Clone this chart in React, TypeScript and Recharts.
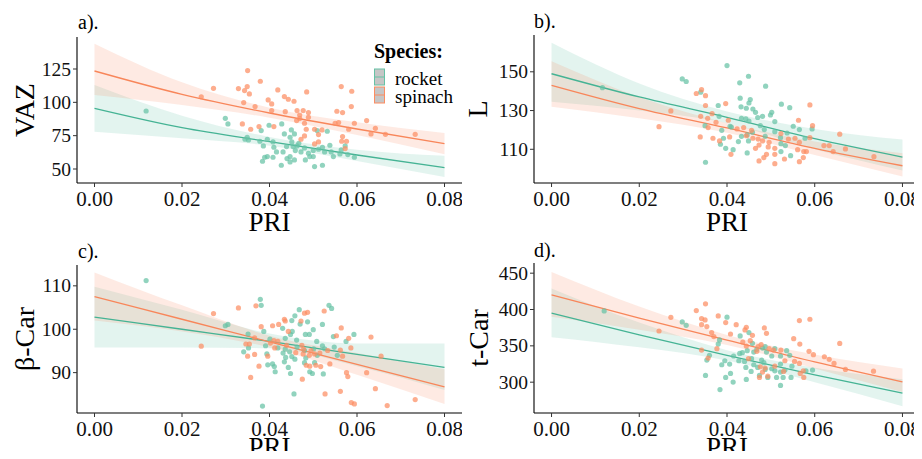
import { ComposedChart, XAxis, YAxis, Scatter, Area, Line } from 'recharts'

const TEAL = '#66C2A5'
const ORANGE = '#FC8D62'
const TEAL_LINE = '#45B394'
const ORANGE_LINE = '#F8865A'
const FONT = '"Liberation Serif", "Times New Roman", serif'

const speciesNames = ['rocket', 'spinach']
const panelTags = ['a).', 'b).', 'c).', 'd).']
const traitNames = ['VAZ', 'L', 'β-Car', 't-Car']

const priTicks = [0, 0.02, 0.04, 0.06, 0.08]
const fitPri = [0, 0.02, 0.04, 0.06, 0.08]

// a) VAZ
const vazTicks = [50, 75, 100, 125]
const vazRocketFit = [95.5, 81, 70.5, 60.5, 51]
const vazRocketLo = [78, 73, 67.5, 56, 44]
const vazRocketHi = [113, 90, 74, 64.5, 60]
const vazSpinachFit = [123.5, 106, 92, 80, 69]
const vazSpinachLo = [105.5, 98, 88.5, 75.5, 61]
const vazSpinachHi = [144, 115, 96, 85, 77]
const vazRocket = [
  [0.0118, 93.5], [0.0299, 88], [0.0305, 83.8], [0.0349, 73.8], [0.0352, 71.8], [0.0344, 72.3],
  [0.0381, 78.8], [0.0378, 70.8], [0.0399, 82.8], [0.0395, 72.3], [0.0408, 70.3], [0.0428, 83.8],
  [0.0434, 76.3], [0.045, 79.3], [0.0447, 73.8], [0.0451, 70.3], [0.0457, 76.3], [0.0439, 66.8],
  [0.0454, 66.8], [0.0463, 67.3], [0.048, 65.8], [0.0459, 63.8], [0.0447, 59.3], [0.0431, 62.8],
  [0.044, 57.8], [0.0416, 62.8], [0.0408, 58.8], [0.0395, 59.3], [0.0389, 58.8], [0.0384, 55.8],
  [0.0427, 52.8], [0.0447, 55.3], [0.0482, 56.8], [0.0492, 59.3], [0.0503, 51.8], [0.0521, 52.8],
  [0.05, 63.8], [0.0512, 64.8], [0.0521, 66.3], [0.0526, 62.8], [0.0538, 67.8], [0.0541, 62.8],
  [0.0546, 59.3], [0.0561, 61.3], [0.0573, 67.3], [0.0579, 60.8], [0.0594, 58.8], [0.0564, 64.3],
  [0.041, 66.3], [0.0386, 67.3], [0.0509, 78.8], [0.0532, 78.3], [0.0472, 62.8], [0.0489, 61.8],
  [0.05, 59.3], [0.0467, 69.3], [0.0457, 56.8],
]
const vazSpinach = [
  [0.0244, 104.2], [0.0272, 110.5], [0.035, 123.8], [0.0329, 110.3], [0.0349, 111.8], [0.0343, 108.8],
  [0.0354, 106.3], [0.0379, 115.8], [0.0419, 109.3], [0.0341, 99.8], [0.0367, 96.8], [0.0397, 101.8],
  [0.0405, 98.8], [0.0405, 93.8], [0.0434, 104.3], [0.0443, 102.3], [0.0456, 100.8], [0.0485, 107.8],
  [0.0436, 93], [0.0463, 93.8], [0.0469, 90.5], [0.0477, 93.8], [0.0489, 92.3], [0.0489, 88.8],
  [0.0469, 87.8], [0.048, 84.3], [0.0462, 86.3], [0.0484, 79.8], [0.0503, 79.8], [0.052, 79.3],
  [0.0512, 75.8], [0.048, 74.8], [0.0472, 72.3], [0.0512, 70.3], [0.0503, 68.8], [0.0564, 111.8],
  [0.0588, 108.3], [0.0587, 96.8], [0.0567, 92.3], [0.0554, 93.3], [0.0558, 84.8], [0.0581, 79.8],
  [0.0594, 84.3], [0.0622, 86.3], [0.0632, 76.3], [0.0567, 74.3], [0.0565, 70.8], [0.0576, 70.8],
  [0.0573, 65.3], [0.0338, 83.8], [0.0357, 79.8], [0.0376, 81.8], [0.041, 81.8], [0.055, 84.3],
  [0.0642, 80.5], [0.0665, 76], [0.0733, 76],
]

// b) L
const lTicks = [110, 130, 150]
const lRocketFit = [149, 137, 126.5, 115.5, 106]
const lRocketLo = [134.5, 130, 123.5, 110, 99]
const lRocketHi = [165, 144, 129.5, 120.5, 115]
const lSpinachFit = [143, 131, 121, 110.5, 101.5]
const lSpinachLo = [132, 126, 118.5, 107, 96]
const lSpinachHi = [155.5, 137, 123.5, 114, 108]
const lRocket = [
  [0.0116, 141.8], [0.04, 153.2], [0.0298, 146.3], [0.0307, 145], [0.0449, 147.7], [0.0429, 144.3],
  [0.0488, 142.6], [0.034, 139.5], [0.043, 136.4], [0.0453, 135.7], [0.045, 133.9], [0.038, 132.6],
  [0.0432, 131.9], [0.0444, 131.2], [0.0459, 130.8], [0.0465, 129.1], [0.0524, 133.3], [0.0543, 131.5],
  [0.0502, 129.1], [0.0499, 127.7], [0.0481, 127], [0.047, 126.4], [0.0382, 127], [0.0433, 126],
  [0.0443, 125.7], [0.045, 124.6], [0.0509, 124.3], [0.0551, 121.9], [0.0565, 120.2], [0.0594, 120.5],
  [0.0537, 118.4], [0.0509, 119.1], [0.0485, 120.2], [0.0458, 118.8], [0.0446, 117.4], [0.0433, 116.7],
  [0.0407, 121.9], [0.041, 121.5], [0.035, 122.2], [0.0388, 119.8], [0.0392, 115.7], [0.0449, 114.3],
  [0.0522, 116], [0.0523, 112.9], [0.0533, 111.9], [0.0385, 112.6], [0.0397, 110.5], [0.0414, 109.8],
  [0.0446, 108.1], [0.0523, 108.8], [0.0545, 106.7], [0.0351, 103.3], [0.0426, 114], [0.0487, 116.7],
  [0.0578, 115.7], [0.0476, 122.2],
]
const lSpinach = [
  [0.0245, 121.7], [0.0272, 129.8], [0.0342, 140.8], [0.033, 138.8], [0.0351, 137.7], [0.0351, 132.6],
  [0.0397, 133.6], [0.0589, 132.9], [0.034, 127], [0.0356, 126], [0.0366, 128.4], [0.0375, 123.9],
  [0.0357, 121.2], [0.0339, 116.4], [0.0368, 115.7], [0.0403, 125], [0.0423, 120.5], [0.0406, 116.4],
  [0.0438, 121.2], [0.0444, 117], [0.0459, 115.7], [0.0471, 115.3], [0.0481, 114.3], [0.0496, 113.6],
  [0.0473, 112.2], [0.0494, 111.2], [0.0509, 110.5], [0.0465, 110.5], [0.049, 107.4], [0.0509, 107.4],
  [0.0473, 104], [0.0484, 105.7], [0.0509, 102.6], [0.0531, 105], [0.0563, 125], [0.0555, 115.7],
  [0.0565, 113.6], [0.0561, 109.8], [0.0575, 108.8], [0.0581, 108.8], [0.0565, 103.6], [0.0574, 105.7],
  [0.0595, 122.2], [0.0589, 116], [0.0621, 111.9], [0.0633, 111.9], [0.0642, 108.8], [0.0383, 114.3],
  [0.0409, 107.4], [0.0456, 119.8], [0.0523, 118.1], [0.054, 115.3], [0.0657, 117.8], [0.067, 110.2],
  [0.0735, 106.2],
]

// c) β-Car
const bTicks = [90, 100, 110]
const bRocketFit = [102.8, 100, 97.2, 94.2, 91.2]
const bRocketLo = [95.8, 95.8, 95.6, 91.5, 86]
const bRocketHi = [109.8, 104.5, 99, 96.7, 96.7]
const bSpinachFit = [107.5, 102.3, 97.1, 91.9, 86.7]
const bSpinachLo = [102, 99.5, 95.8, 89.5, 82.8]
const bSpinachHi = [113.1, 105.5, 98.5, 94.5, 90.8]
const bRocket = [
  [0.0118, 111.2], [0.0379, 106.9], [0.0381, 105.5], [0.0536, 105.5], [0.0542, 104.8], [0.0468, 104.5],
  [0.0451, 102], [0.0458, 103.1], [0.047, 101.2], [0.0487, 101.7], [0.0521, 101.1], [0.043, 100.2],
  [0.0452, 99.5], [0.0448, 98.8], [0.0482, 98.8], [0.0491, 98.8], [0.05, 99.9], [0.0387, 99.5],
  [0.0299, 100.8], [0.0305, 101.1], [0.0351, 98.9], [0.0401, 97.7], [0.0436, 97.9], [0.0462, 97.5],
  [0.0508, 97.2], [0.0546, 98.3], [0.0593, 98.8], [0.0575, 97.2], [0.0352, 95.7], [0.0341, 94.8],
  [0.0391, 96.2], [0.0419, 95.7], [0.0436, 95.4], [0.0431, 94.5], [0.0446, 94.8], [0.0463, 95.9],
  [0.048, 95.1], [0.0501, 95.5], [0.0521, 96.2], [0.0526, 95.5], [0.0548, 95.9], [0.0555, 94],
  [0.0394, 94.3], [0.0437, 93.5], [0.0451, 93.7], [0.0458, 93.1], [0.0483, 93.4], [0.0509, 94],
  [0.0503, 92.3], [0.0434, 92.5], [0.0443, 91.2], [0.048, 92.3], [0.0396, 91.8], [0.0407, 92],
  [0.0411, 91.4], [0.0492, 90.2], [0.0498, 89.8], [0.0523, 89.7], [0.0448, 89.8], [0.0413, 90.2],
  [0.0456, 85.1], [0.0384, 82.3],
]
const bSpinach = [
  [0.0244, 96.1], [0.0272, 103.6], [0.0329, 104.9], [0.0369, 105.4], [0.0434, 102.3], [0.0436, 101.9],
  [0.0443, 99.5], [0.048, 103.7], [0.0487, 103.9], [0.0472, 101.9], [0.0525, 104.2], [0.0564, 100.3],
  [0.0553, 98.5], [0.0581, 97.9], [0.0632, 98.2], [0.0381, 100.6], [0.0407, 100.8], [0.0421, 101.1],
  [0.0366, 98], [0.0402, 96.8], [0.041, 97.4], [0.0419, 97.2], [0.0354, 96.6], [0.0346, 96.6],
  [0.0412, 95.7], [0.0439, 96.3], [0.0474, 96.3], [0.0478, 95.4], [0.0495, 95.1], [0.046, 94.6],
  [0.0477, 94.3], [0.0491, 94], [0.0503, 94.3], [0.0515, 94.5], [0.0533, 95.1], [0.0562, 95.2],
  [0.0567, 93.8], [0.0586, 95.7], [0.035, 93.8], [0.0396, 93.8], [0.0366, 94.2], [0.0376, 91.5],
  [0.0484, 91.7], [0.0492, 91.5], [0.0506, 91.7], [0.0517, 91.4], [0.0538, 92], [0.0576, 90],
  [0.0579, 89.1], [0.0622, 90], [0.0475, 88.5], [0.0357, 88.9], [0.0527, 85.1], [0.0562, 85.7],
  [0.0587, 83.1], [0.0594, 82.8], [0.0642, 86.3], [0.0669, 82.4], [0.0733, 83.8], [0.0655, 93.8],
]

// d) t-Car
const tTicks = [300, 350, 400, 450]
const tRocketFit = [395, 365, 337, 310, 285]
const tRocketLo = [362, 348, 330, 300, 267]
const tRocketHi = [429, 382, 344, 320, 304]
const tSpinachFit = [420, 388, 358, 328, 300.5]
const tSpinachLo = [390, 372, 351, 319, 286.5]
const tSpinachHi = [451.5, 404, 365, 338, 319]
const tRocket = [
  [0.012, 398], [0.0298, 382.9], [0.0307, 378.3], [0.04, 389.4], [0.043, 363.6], [0.045, 368.2],
  [0.0383, 358.1], [0.038, 352.5], [0.0458, 353.5], [0.0461, 341.5], [0.0468, 345.2], [0.0481, 347],
  [0.0487, 348.8], [0.0509, 346.1], [0.049, 341.5], [0.0429, 339.6], [0.0435, 340.6], [0.0446, 343.3],
  [0.0415, 336], [0.0395, 329.5], [0.0406, 324.9], [0.0427, 329.5], [0.044, 328.6], [0.0456, 332.3],
  [0.0479, 330.4], [0.0484, 326.8], [0.0502, 336], [0.0522, 336], [0.0536, 343.3], [0.0543, 336.9],
  [0.0548, 322.1], [0.0522, 324.9], [0.0502, 318.5], [0.0509, 315.7], [0.0522, 313.9], [0.0532, 316.6],
  [0.0546, 306.5], [0.0461, 324], [0.0443, 320.3], [0.0455, 314.8], [0.047, 320.3], [0.0487, 317.5],
  [0.0474, 309.3], [0.0493, 306.5], [0.0513, 306.5], [0.0528, 306.5], [0.0595, 316.6], [0.058, 315.7],
  [0.0388, 324], [0.0408, 312], [0.0397, 306.5], [0.0351, 309.3], [0.0444, 303.8], [0.0414, 300.1],
  [0.0384, 289.9], [0.0522, 295.5], [0.036, 336.9], [0.0354, 330.4],
]
const tSpinach = [
  [0.0245, 370.4], [0.0272, 389.3], [0.0351, 407.8], [0.033, 398.6], [0.0342, 387.5], [0.035, 385.7],
  [0.0342, 379.2], [0.0354, 376.5], [0.038, 391.2], [0.0397, 382], [0.0421, 379.2], [0.0441, 371.9],
  [0.0444, 375.5], [0.0458, 364.5], [0.0485, 374.6], [0.049, 367.3], [0.0565, 384.8], [0.0589, 386.6],
  [0.0552, 359.9], [0.0566, 352.5], [0.0365, 368.2], [0.037, 362.7], [0.0408, 366.3], [0.0436, 355.3],
  [0.0453, 357.1], [0.0471, 348.8], [0.0478, 351.6], [0.0496, 346.1], [0.0506, 344.2], [0.0523, 344.2],
  [0.0468, 342.4], [0.0444, 349.8], [0.0377, 346.1], [0.0342, 344.2], [0.0357, 333.2], [0.0587, 342.4],
  [0.0597, 337.8], [0.0622, 335], [0.0633, 331.4], [0.0644, 325.8], [0.0554, 328.6], [0.0565, 325.8],
  [0.0574, 315.7], [0.0532, 329.5], [0.0509, 322.1], [0.0476, 321.2], [0.0487, 319.4], [0.0481, 313.9],
  [0.0493, 308.3], [0.0474, 306.5], [0.0529, 314.8], [0.0567, 312], [0.0575, 306.5], [0.0449, 332.3],
  [0.0657, 353.4], [0.067, 317.5], [0.0734, 315.2],
]

type Pair = number[]

function buildFit(rFit: number[], rLo: number[], rHi: number[], sFit: number[], sLo: number[], sHi: number[]) {
  return fitPri.map((x, i) => ({
    x,
    rocket: rFit[i],
    rocketBand: [rLo[i], rHi[i]],
    spinach: sFit[i],
    spinachBand: [sLo[i], sHi[i]],
  }))
}

const toPoints = (pairs: Pair[]) => pairs.map(([x, y]) => ({ x, y }))

const dot = (color: string) => (props: any) => (
  <circle cx={props.cx} cy={props.cy} r={2.6} fill={color} fillOpacity={0.72} />
)

// tick renderer so the serif font is applied for sure
const serifTick = (size: number, axis: 'x' | 'y') => (props: any) => {
  const { x, y, payload } = props
  const label = axis === 'x' ? Number(payload.value).toFixed(2) : String(payload.value)
  return (
    <text
      x={x}
      y={y}
      dy={axis === 'x' ? size * 0.78 : size * 0.34}
      textAnchor={axis === 'x' ? 'middle' : 'end'}
      fontSize={size}
      fill="#111"
      style={{ fontFamily: FONT }}
    >
      {label}
    </text>
  )
}

type PanelProps = {
  left: number
  top: number
  width: number
  height: number
  marginTop: number
  marginRight: number
  axisWidth: number
  axisHeight: number
  title: string
  titleX: number
  priDy: number
  yDomain: number[]
  yTicks: number[]
  rocket: Pair[]
  spinach: Pair[]
  fit: ReturnType<typeof buildFit>
}

function Panel(p: PanelProps) {
  return (
    <div style={{ position: 'absolute', left: p.left, top: p.top, fontFamily: FONT }}>
      <ComposedChart
        width={p.width}
        height={p.height}
        data={p.fit}
        margin={{ top: p.marginTop, right: p.marginRight, bottom: 0, left: 0 }}
      >
        <XAxis
          type="number"
          dataKey="x"
          domain={[-0.004, 0.084]}
          ticks={priTicks}
          allowDataOverflow
          height={p.axisHeight}
          tick={serifTick(21, 'x')}
          tickSize={4}
          tickMargin={3}
          axisLine={{ stroke: '#000', strokeWidth: 1.1 }}
          tickLine={{ stroke: '#333' }}
          label={(lp: any) => {
            const vb = lp.viewBox
            return (
              <text
                x={vb.x + vb.width / 2}
                y={vb.y + p.priDy}
                textAnchor="middle"
                fontSize={27}
                fill="#000"
                style={{ fontFamily: FONT }}
              >
                PRI
              </text>
            )
          }}
        />
        <YAxis
          type="number"
          dataKey="y"
          domain={p.yDomain}
          ticks={p.yTicks}
          allowDataOverflow
          width={p.axisWidth}
          tick={serifTick(19.5, 'y')}
          tickSize={4}
          tickMargin={2}
          axisLine={{ stroke: '#000', strokeWidth: 1.1 }}
          tickLine={{ stroke: '#333' }}
          label={(lp: any) => {
            const vb = lp.viewBox
            const cy = vb.y + vb.height / 2
            return (
              <text
                x={p.titleX}
                y={cy}
                transform={`rotate(-90 ${p.titleX} ${cy})`}
                textAnchor="middle"
                dominantBaseline="central"
                fontSize={28}
                fill="#000"
                style={{ fontFamily: FONT }}
              >
                {p.title}
              </text>
            )
          }}
        />
        <Scatter data={toPoints(p.rocket)} shape={dot(TEAL)} isAnimationActive={false} />
        <Scatter data={toPoints(p.spinach)} shape={dot(ORANGE)} isAnimationActive={false} />
        <Area
          type="monotone"
          dataKey="rocketBand"
          stroke="none"
          fill={TEAL}
          fillOpacity={0.18}
          activeDot={false}
          isAnimationActive={false}
        />
        <Area
          type="monotone"
          dataKey="spinachBand"
          stroke="none"
          fill={ORANGE}
          fillOpacity={0.18}
          activeDot={false}
          isAnimationActive={false}
        />
        <Line type="monotone" dataKey="rocket" stroke={TEAL_LINE} strokeWidth={1.3} dot={false} activeDot={false} isAnimationActive={false} />
        <Line type="monotone" dataKey="spinach" stroke={ORANGE_LINE} strokeWidth={1.3} dot={false} activeDot={false} isAnimationActive={false} />
      </ComposedChart>
    </div>
  )
}

export default function App() {
  return (
    <div style={{ position: 'relative', width: 922, height: 459, background: '#fff', margin: -8, fontFamily: FONT }}>
      <Panel
        left={0} top={0} width={462} height={236} marginTop={37} marginRight={0}
        axisWidth={77} axisHeight={53} title={traitNames[0]} titleX={24} priDy={48}
        yDomain={[39.5, 149]} yTicks={vazTicks} rocket={vazRocket} spinach={vazSpinach}
        fit={buildFit(vazRocketFit, vazRocketLo, vazRocketHi, vazSpinachFit, vazSpinachLo, vazSpinachHi)}
      />
      <Panel
        left={461} top={0} width={461} height={236} marginTop={35} marginRight={2}
        axisWidth={73} axisHeight={53} title={traitNames[1]} titleX={16} priDy={48}
        yDomain={[92.6, 169]} yTicks={lTicks} rocket={lRocket} spinach={lSpinach}
        fit={buildFit(lRocketFit, lRocketLo, lRocketHi, lSpinachFit, lSpinachLo, lSpinachHi)}
      />
      <Panel
        left={0} top={230} width={462} height={229} marginTop={35} marginRight={0}
        axisWidth={77} axisHeight={46} title={traitNames[2]} titleX={24} priDy={43}
        yDomain={[80.7, 114.8]} yTicks={bTicks} rocket={bRocket} spinach={bSpinach}
        fit={buildFit(bRocketFit, bRocketLo, bRocketHi, bSpinachFit, bSpinachLo, bSpinachHi)}
      />
      <Panel
        left={461} top={230} width={461} height={229} marginTop={33} marginRight={2}
        axisWidth={73} axisHeight={46} title={traitNames[3]} titleX={17} priDy={43}
        yDomain={[257.6, 464]} yTicks={tTicks} rocket={tRocket} spinach={tSpinach}
        fit={buildFit(tRocketFit, tRocketLo, tRocketHi, tSpinachFit, tSpinachLo, tSpinachHi)}
      />
      <svg
        width={922}
        height={459}
        style={{ position: 'absolute', left: 0, top: 0, pointerEvents: 'none', fontFamily: FONT }}
      >
        <text x={78} y={29} fontSize={20}>{panelTags[0]}</text>
        <text x={534} y={28} fontSize={20}>{panelTags[1]}</text>
        <text x={78} y={258} fontSize={20}>{panelTags[2]}</text>
        <text x={534} y={257} fontSize={20}>{panelTags[3]}</text>
        <text x={374} y={58} fontSize={20} fontWeight="bold">Species:</text>
        {speciesNames.map((name, i) => {
          const color = i === 0 ? TEAL : ORANGE
          const y0 = 69 + i * 18
          return (
            <g key={name}>
              <rect x={374.5} y={y0} width={10} height={16} fill="#c6c6c6" stroke={color} strokeWidth={1} />
              <line x1={374.5} x2={384.5} y1={y0 + 8} y2={y0 + 8} stroke={color} strokeWidth={1} />
              <text x={395} y={y0 + 16} fontSize={19}>{name}</text>
            </g>
          )
        })}
      </svg>
    </div>
  )
}
